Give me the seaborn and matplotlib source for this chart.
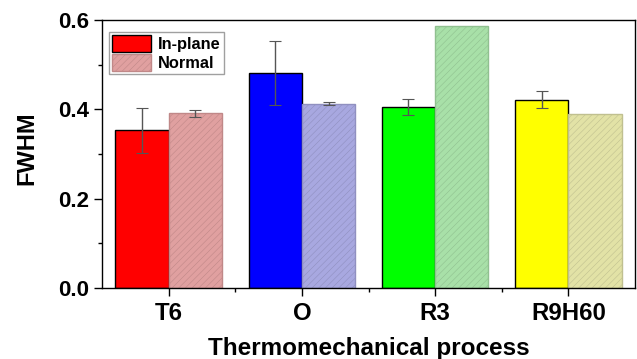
import matplotlib
matplotlib.use("Agg")
import matplotlib.pyplot as plt
import seaborn as sns
import pandas as pd
import numpy as np
from matplotlib.patches import Patch
from matplotlib.ticker import FixedLocator, MultipleLocator

processes = ["T6", "O", "R3", "R9H60"]
inplane = [0.353, 0.481, 0.405, 0.422]
inplane_err = [0.050, 0.072, 0.018, 0.020]
normal = [0.391, 0.413, 0.587, 0.389]
normal_err = [0.008, 0.003, 0.0, 0.0]
inplane_colors = ["#FF0000", "#0000FF", "#00FF00", "#FFFF00"]
normal_colors = ["#E0A0A0", "#A8A8E0", "#A8E0A8", "#E2E2A6"]
normal_edges = ["#C08888", "#9090C0", "#90C090", "#C0C090"]

sns.set_style("ticks")
plt.rcParams['font.family'] = ['Liberation Sans', 'DejaVu Sans']
plt.rcParams['font.weight'] = 'bold'
plt.rcParams['hatch.linewidth'] = 0.4
plt.rcParams['text.color'] = 'black'
plt.rcParams['axes.labelcolor'] = 'black'
plt.rcParams['xtick.color'] = 'black'
plt.rcParams['ytick.color'] = 'black'

df = pd.DataFrame({
    "process": processes * 2,
    "orientation": ["In-plane"] * 4 + ["Normal"] * 4,
    "fwhm": inplane + normal,
})

fig = plt.figure(figsize=(6.37, 3.59), dpi=100)
ax = fig.add_axes([0.160, 0.198, 0.837, 0.746])
sns.barplot(data=df, x="process", y="fwhm", hue="orientation", order=processes,
            hue_order=["In-plane", "Normal"], errorbar=None, saturation=1,
            width=0.8, ax=ax, legend=False)

n = len(processes)
patches = ax.patches
for i, p in enumerate(patches[:n]):
    p.set_facecolor(inplane_colors[i])
    p.set_edgecolor("black")
    p.set_linewidth(1.0)
    cx = p.get_x() + p.get_width() / 2
    ax.errorbar(cx, p.get_height(), yerr=inplane_err[i], color="#555555",
                capsize=4, elinewidth=1, capthick=0.8, zorder=5)
for i, p in enumerate(patches[n:2 * n]):
    p.set_facecolor(normal_colors[i])
    p.set_edgecolor(normal_edges[i])
    p.set_hatch("/////")
    p.set_linewidth(1.0)
    if normal_err[i] > 0:
        cx = p.get_x() + p.get_width() / 2
        ax.errorbar(cx, p.get_height(), yerr=normal_err[i], color="#555555",
                    capsize=4, elinewidth=1, capthick=0.8, zorder=5)

ax.set_xlim(-0.5, 3.5)
ax.set_ylim(0, 0.6)
ax.yaxis.set_major_locator(FixedLocator([0.0, 0.2, 0.4, 0.6]))
ax.set_yticklabels(["0.0", "0.2", "0.4", "0.6"])
ax.yaxis.set_minor_locator(MultipleLocator(0.1))
ax.xaxis.set_minor_locator(FixedLocator([0.5, 1.5, 2.5]))
for s in ax.spines.values():
    s.set_visible(True)
    s.set_linewidth(1.0)
    s.set_color("black")
ax.tick_params(axis="both", which="major", direction="out", length=5.5, width=1,
               colors="black")
ax.tick_params(axis="x", which="major", pad=4.5, labelsize=17.3)
ax.tick_params(axis="y", which="major", pad=4, labelsize=16)
ax.tick_params(axis="both", which="minor", direction="out", length=3, width=1)
for lab in ax.get_xticklabels() + ax.get_yticklabels():
    lab.set_fontweight("bold")

ax.set_xlabel("Thermomechanical process", fontsize=17.5, fontweight="bold")
ax.set_ylabel("FWHM", fontsize=17, fontweight="bold")
ax.xaxis.set_label_coords(0.5, -0.183)
ax.yaxis.set_label_coords(-0.120, 0.522)

handles = [Patch(facecolor="#FF0000", edgecolor="black", label="In-plane"),
           Patch(facecolor="#E0A0A0", edgecolor="#C08888", hatch="/////", label="Normal")]
leg = ax.legend(handles=handles, loc="upper left", bbox_to_anchor=(0.013, 0.956),
                frameon=True, fancybox=False, prop={"weight": "bold", "size": 11.8},
                handlelength=2.4, handleheight=1.2, handletextpad=0.4,
                borderpad=0.2, labelspacing=0.1, borderaxespad=0)
leg.get_frame().set_edgecolor("#888888")
leg.get_frame().set_linewidth(1.0)

fig.savefig("out.png", dpi=100)
